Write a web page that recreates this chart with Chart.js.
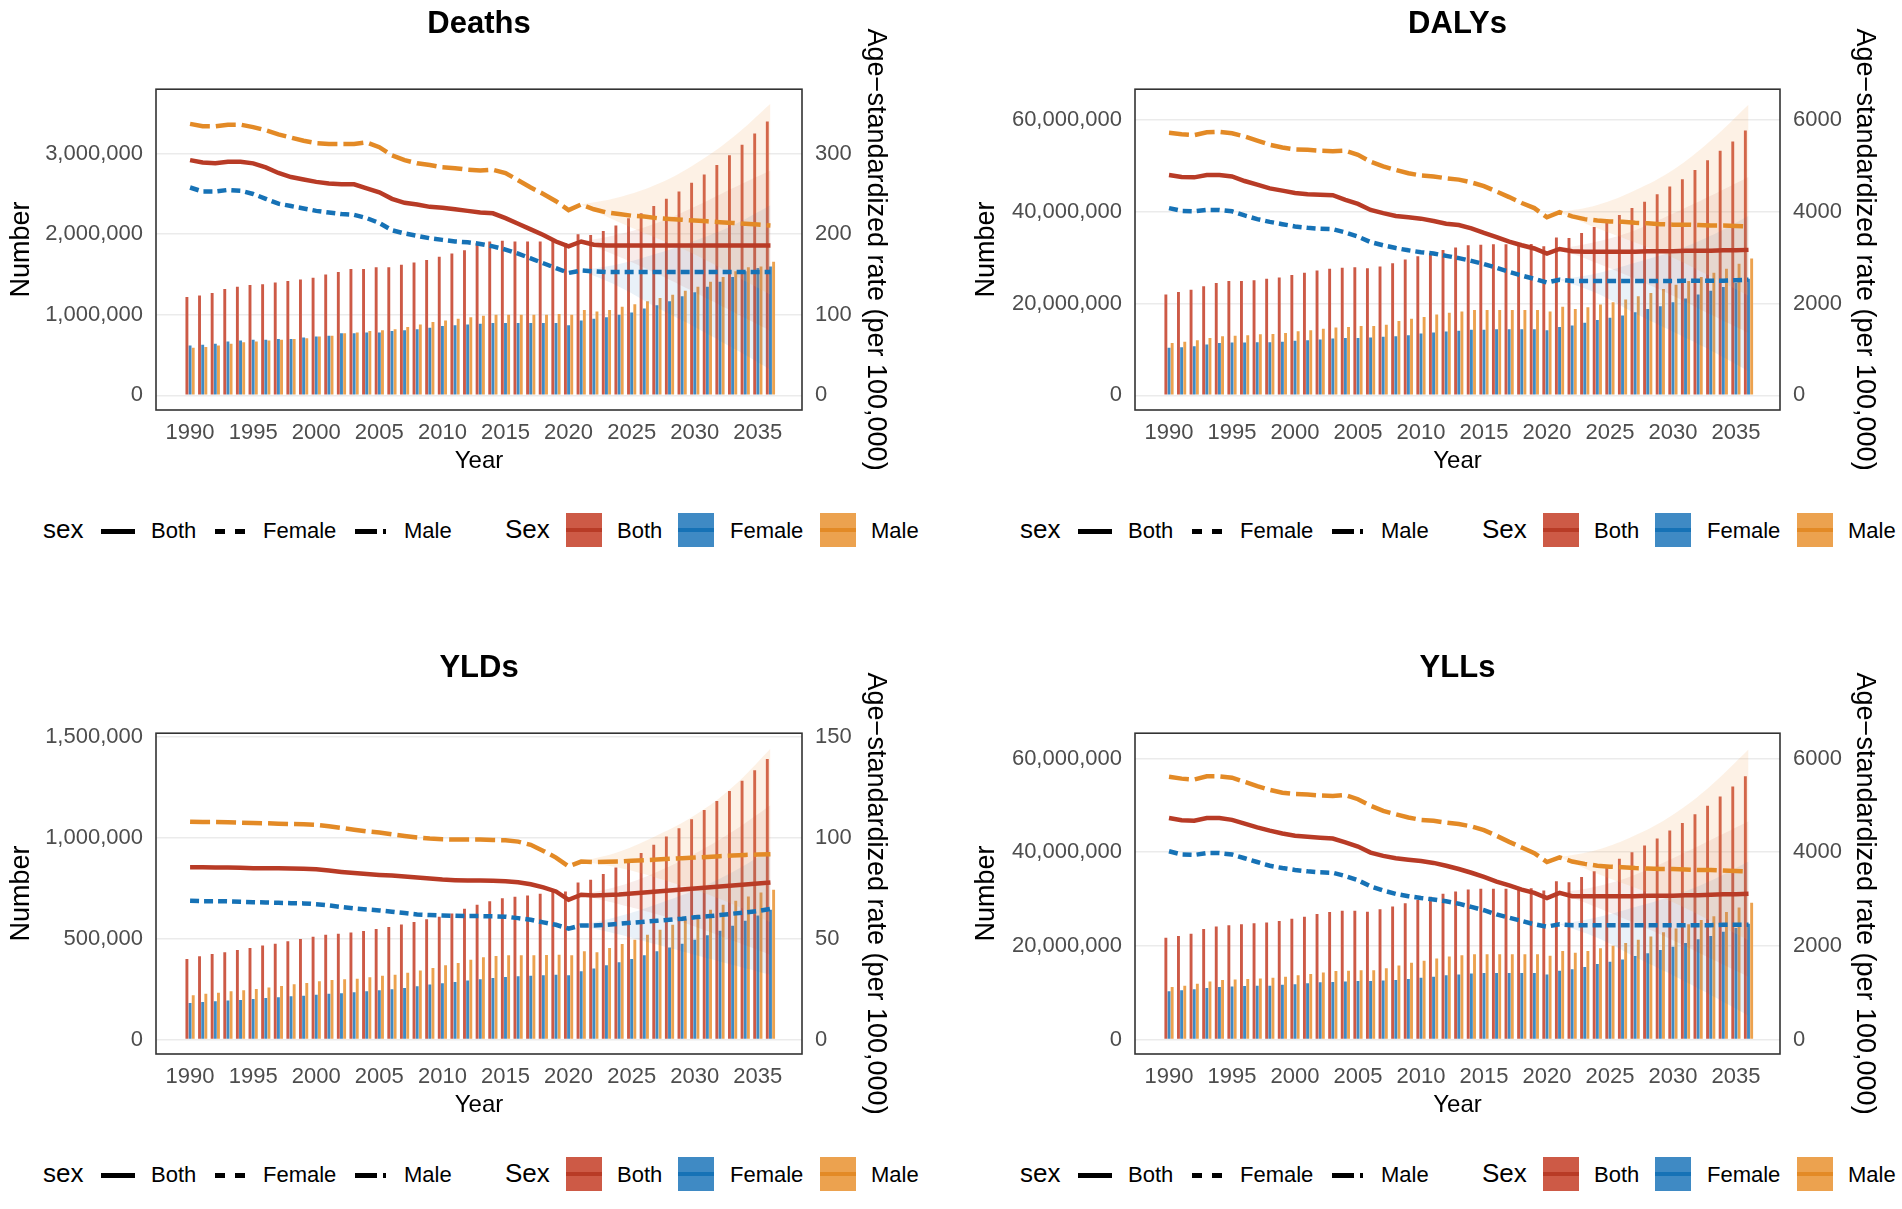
<!DOCTYPE html>
<html>
<head>
<meta charset="utf-8">
<script src="https://cdn.jsdelivr.net/npm/chart.js@4.4.1/dist/chart.umd.min.js"></script>
<style>
  body { margin: 0; background: #fff; }
  #wrap { position: relative; width: 1902px; height: 1209px; overflow: hidden; font-family: 'Liberation Sans', Arial, sans-serif; }
  canvas { position: absolute; }
</style>
</head>
<body>
<div id="wrap">
  <canvas id="deaths" width="892" height="480" style="left:0px;top:0px"></canvas>
  <canvas id="dalys" width="916" height="480" style="left:965px;top:0px"></canvas>
  <canvas id="ylds" width="892" height="480" style="left:0px;top:644px"></canvas>
  <canvas id="ylls" width="916" height="480" style="left:965px;top:644px"></canvas>
</div>
<script>
// Years shown in every panel
const years = [1990, 1991, 1992, 1993, 1994, 1995, 1996, 1997, 1998, 1999,
  2000, 2001, 2002, 2003, 2004, 2005, 2006, 2007, 2008, 2009,
  2010, 2011, 2012, 2013, 2014, 2015, 2016, 2017, 2018, 2019,
  2020, 2021, 2022, 2023, 2024, 2025, 2026, 2027, 2028, 2029,
  2030, 2031, 2032, 2033, 2034, 2035, 2036];
const xTicks = [1990, 1995, 2000, 2005, 2010, 2015, 2020, 2025, 2030, 2035];
const bandYears = [2021, 2024, 2027, 2030, 2033, 2036];

// Deaths: numbers in millions, rates per 100,000
const deathsNumBoth = [1.22, 1.24, 1.27, 1.32, 1.35, 1.37, 1.38, 1.40, 1.42, 1.44,
  1.46, 1.50, 1.53, 1.57, 1.57, 1.59, 1.59, 1.62, 1.65, 1.68,
  1.72, 1.76, 1.80, 1.89, 1.91, 1.92, 1.91, 1.91, 1.91, 1.94,
  1.89, 2.00, 1.99, 2.04, 2.11, 2.20, 2.26, 2.35, 2.44, 2.53,
  2.64, 2.74, 2.86, 2.98, 3.11, 3.25, 3.40];
const deathsNumFemale = [0.62, 0.63, 0.64, 0.67, 0.68, 0.69, 0.69, 0.70, 0.70, 0.72,
  0.73, 0.74, 0.77, 0.77, 0.78, 0.78, 0.80, 0.81, 0.82, 0.84,
  0.86, 0.87, 0.88, 0.89, 0.90, 0.90, 0.90, 0.90, 0.90, 0.90,
  0.87, 0.93, 0.95, 0.97, 1.00, 1.03, 1.08, 1.12, 1.17, 1.23,
  1.28, 1.35, 1.41, 1.47, 1.54, 1.58, 1.60];
const deathsNumMale = [0.59, 0.60, 0.62, 0.64, 0.66, 0.67, 0.68, 0.69, 0.70, 0.71,
  0.73, 0.74, 0.77, 0.78, 0.80, 0.81, 0.82, 0.85, 0.88, 0.91,
  0.93, 0.95, 0.97, 0.99, 1.00, 1.00, 1.00, 1.00, 1.00, 1.01,
  1.00, 1.06, 1.04, 1.06, 1.10, 1.13, 1.17, 1.21, 1.25, 1.30,
  1.35, 1.41, 1.47, 1.54, 1.59, 1.60, 1.66];
const deathsRateBoth = [292, 289, 288, 290, 290, 288, 283, 276, 271, 268,
  265, 263, 262, 262, 257, 252, 244, 239, 237, 234,
  233, 231, 229, 227, 226, 220, 213, 206, 199, 191,
  185, 191, 187, 186, 186, 186, 186, 186, 186, 186,
  186, 186, 186, 186, 186, 186, 186];
const deathsRateFemale = [258, 253, 253, 255, 254, 250, 244, 238, 235, 232,
  229, 227, 225, 224, 220, 214, 205, 201, 198, 195,
  193, 191, 190, 188, 185, 181, 176, 170, 164, 158,
  152, 155, 154, 153, 153, 153, 153, 153, 153, 153,
  153, 153, 153, 153, 153, 153, 153];
const deathsRateMale = [337, 334, 334, 336, 336, 333, 329, 324, 320, 316,
  313, 312, 312, 312, 314, 308, 298, 292, 288, 286,
  283, 282, 280, 279, 280, 276, 267, 258, 250, 241,
  230, 237, 231, 227, 225, 223, 222, 220, 219, 218,
  217, 216, 215, 214, 213, 212, 211];
const deathsBandMaleHi = [237, 246, 262, 287, 320, 362];
const deathsBandMaleLo = [237, 215, 195, 175, 150, 125];
const deathsBandBothHi = [191, 200, 214, 234, 257, 279];
const deathsBandBothLo = [191, 172, 151, 128, 104, 80];
const deathsBandFemaleHi = [155, 163, 176, 192, 211, 236];
const deathsBandFemaleLo = [155, 135, 109, 85, 59, 32];
const deathsTicksLeft = [0, 1, 2, 3];
const deathsTicksRight = [0, 100, 200, 300];

// DALYs
const dalysNumBoth = [22.0, 22.5, 23.0, 23.8, 24.5, 24.9, 24.9, 25.1, 25.4, 25.7,
  26.2, 26.7, 27.2, 27.6, 27.8, 27.9, 27.7, 28.1, 28.8, 29.6,
  30.3, 31.0, 31.7, 32.2, 32.7, 32.8, 32.9, 32.9, 33.0, 33.0,
  32.5, 34.4, 34.3, 35.4, 36.7, 37.9, 39.3, 40.8, 42.2, 43.8,
  45.5, 47.1, 49.1, 51.2, 53.3, 55.3, 57.7];
const dalysNumFemale = [10.4, 10.5, 10.7, 11.1, 11.4, 11.5, 11.5, 11.6, 11.6, 11.7,
  11.9, 12.0, 12.2, 12.4, 12.5, 12.5, 12.6, 12.8, 12.9, 13.1,
  13.5, 13.7, 13.9, 14.1, 14.3, 14.3, 14.4, 14.4, 14.4, 14.4,
  14.2, 14.9, 15.2, 15.8, 16.4, 16.9, 17.4, 18.1, 18.8, 19.4,
  20.3, 21.1, 22.0, 22.8, 23.6, 24.5, 25.4];
const dalysNumMale = [11.4, 11.7, 12.0, 12.5, 12.9, 13.0, 13.1, 13.3, 13.4, 13.6,
  14.0, 14.2, 14.5, 14.8, 14.9, 15.1, 15.1, 15.4, 16.2, 16.7,
  17.1, 17.6, 18.0, 18.3, 18.6, 18.6, 18.6, 18.6, 18.6, 18.6,
  18.3, 19.3, 18.8, 19.2, 19.8, 20.3, 20.9, 21.6, 22.3, 23.2,
  24.1, 24.9, 25.8, 26.7, 27.6, 28.7, 29.8];
const dalysRateBoth = [4800, 4760, 4750, 4800, 4800, 4770, 4670, 4590, 4510, 4460,
  4410, 4380, 4370, 4360, 4260, 4170, 4040, 3970, 3910, 3880,
  3850, 3800, 3740, 3710, 3640, 3540, 3450, 3350, 3270, 3200,
  3090, 3190, 3140, 3130, 3130, 3130, 3130, 3130, 3140, 3140,
  3140, 3150, 3150, 3150, 3160, 3160, 3170];
const dalysRateFemale = [4080, 4020, 4010, 4040, 4040, 4010, 3920, 3840, 3780, 3730,
  3680, 3650, 3630, 3620, 3550, 3460, 3340, 3270, 3210, 3160,
  3120, 3090, 3040, 2990, 2930, 2860, 2780, 2690, 2610, 2540,
  2460, 2520, 2490, 2490, 2490, 2490, 2490, 2490, 2490, 2490,
  2490, 2500, 2500, 2500, 2500, 2510, 2520];
const dalysRateMale = [5720, 5690, 5670, 5730, 5740, 5710, 5640, 5550, 5460, 5400,
  5360, 5350, 5330, 5320, 5330, 5240, 5090, 4990, 4910, 4840,
  4790, 4770, 4730, 4700, 4640, 4560, 4440, 4320, 4190, 4080,
  3880, 3990, 3900, 3840, 3810, 3790, 3780, 3760, 3750, 3730,
  3720, 3720, 3710, 3700, 3700, 3690, 3680];
const dalysBandMaleHi = [3990, 4150, 4470, 4910, 5550, 6330];
const dalysBandMaleLo = [3990, 3640, 3330, 3000, 2590, 2170];
const dalysBandBothHi = [3190, 3350, 3600, 3960, 4350, 4760];
const dalysBandBothLo = [3190, 2880, 2540, 2170, 1760, 1360];
const dalysBandFemaleHi = [2520, 2660, 2890, 3140, 3480, 3910];
const dalysBandFemaleLo = [2520, 2220, 1790, 1390, 980, 530];
const dalysTicksLeft = [0, 20, 40, 60];
const dalysTicksRight = [0, 2000, 4000, 6000];

// YLDs
const yldsNumBoth = [0.399, 0.412, 0.423, 0.432, 0.443, 0.453, 0.465, 0.474, 0.486, 0.498,
  0.509, 0.519, 0.524, 0.530, 0.537, 0.547, 0.557, 0.570, 0.582, 0.595,
  0.608, 0.624, 0.647, 0.667, 0.684, 0.700, 0.707, 0.713, 0.722, 0.733,
  0.733, 0.778, 0.791, 0.819, 0.852, 0.881, 0.923, 0.964, 1.005, 1.046,
  1.091, 1.137, 1.181, 1.231, 1.282, 1.334, 1.389];
const yldsNumFemale = [0.180, 0.185, 0.189, 0.193, 0.196, 0.201, 0.206, 0.209, 0.214, 0.217,
  0.222, 0.226, 0.229, 0.234, 0.239, 0.244, 0.249, 0.255, 0.264, 0.272,
  0.278, 0.285, 0.292, 0.298, 0.305, 0.310, 0.313, 0.316, 0.318, 0.320,
  0.318, 0.338, 0.351, 0.367, 0.382, 0.399, 0.417, 0.437, 0.456, 0.474,
  0.494, 0.516, 0.539, 0.563, 0.588, 0.614, 0.642];
const yldsNumMale = [0.219, 0.226, 0.232, 0.239, 0.244, 0.250, 0.257, 0.265, 0.273, 0.280,
  0.288, 0.295, 0.298, 0.301, 0.308, 0.315, 0.321, 0.331, 0.341, 0.354,
  0.367, 0.379, 0.395, 0.407, 0.413, 0.417, 0.417, 0.417, 0.418, 0.420,
  0.417, 0.437, 0.432, 0.453, 0.473, 0.494, 0.519, 0.544, 0.568, 0.593,
  0.618, 0.642, 0.667, 0.687, 0.708, 0.728, 0.741];
const yldsRateBoth = [85.3, 85.3, 85.2, 85.2, 85.0, 84.8, 84.8, 84.8, 84.7, 84.5,
  84.3, 83.7, 83.0, 82.4, 81.9, 81.5, 81.2, 80.7, 80.2, 79.7,
  79.2, 78.9, 78.7, 78.7, 78.6, 78.4, 77.9, 76.9, 75.3, 73.3,
  69.2, 71.7, 71.3, 71.5, 71.8, 72.3, 72.8, 73.3, 73.8, 74.3,
  74.8, 75.3, 75.8, 76.3, 76.8, 77.3, 77.8];
const yldsRateFemale = [68.7, 68.5, 68.5, 68.4, 68.2, 68.0, 67.9, 67.7, 67.5, 67.4,
  67.0, 66.4, 65.6, 64.9, 64.4, 63.9, 63.3, 62.6, 61.9, 61.6,
  61.4, 61.3, 61.1, 61.1, 61.0, 60.8, 60.1, 59.3, 58.0, 56.8,
  54.9, 56.5, 56.5, 56.8, 57.3, 57.8, 58.3, 58.8, 59.3, 59.8,
  60.5, 61.0, 61.6, 62.3, 62.9, 63.6, 64.7];
const yldsRateMale = [107.9, 107.7, 107.7, 107.6, 107.4, 107.2, 107.1, 106.9, 106.7, 106.6,
  106.3, 105.6, 104.8, 103.9, 103.1, 102.5, 101.6, 100.8, 100.0, 99.5,
  99.2, 99.0, 99.0, 99.0, 98.8, 98.7, 98.0, 96.4, 93.4, 90.1,
  85.7, 88.1, 87.8, 88.0, 88.1, 88.5, 88.8, 89.1, 89.5, 89.8,
  90.1, 90.4, 90.8, 91.1, 91.4, 91.6, 91.8];
const yldsBandMaleHi = [88.1, 93, 101, 111, 125, 144];
const yldsBandMaleLo = [88.1, 85, 80, 74, 67, 58];
const yldsBandBothHi = [71.7, 76, 83, 92, 103, 116];
const yldsBandBothLo = [71.7, 67, 62, 56, 49, 42];
const yldsBandFemaleHi = [56.5, 61, 67, 74, 83, 94];
const yldsBandFemaleLo = [56.5, 52, 47, 42, 37, 32];
const yldsTicksLeft = [0, 0.5, 1.0, 1.5];
const yldsTicksRight = [0, 50, 100, 150];

// YLLs
const yllsNumBoth = [21.7, 22.1, 22.6, 23.6, 24.1, 24.4, 24.6, 24.8, 25.0, 25.3,
  25.8, 26.2, 26.8, 27.2, 27.5, 27.5, 27.3, 27.8, 28.4, 29.1,
  29.8, 30.5, 31.1, 31.6, 32.0, 32.2, 32.2, 32.2, 32.3, 32.3,
  31.8, 33.8, 33.6, 34.7, 35.9, 37.1, 38.6, 40.0, 41.4, 42.9,
  44.6, 46.2, 48.1, 49.9, 51.9, 54.0, 56.2];
const yllsNumFemale = [10.3, 10.5, 10.7, 11.0, 11.2, 11.3, 11.4, 11.5, 11.5, 11.7,
  11.8, 12.0, 12.2, 12.3, 12.4, 12.5, 12.5, 12.6, 12.7, 12.9,
  13.2, 13.4, 13.7, 13.9, 14.1, 14.2, 14.2, 14.2, 14.2, 14.2,
  13.9, 14.7, 15.0, 15.5, 16.1, 16.6, 17.1, 17.8, 18.4, 19.1,
  19.8, 20.6, 21.4, 22.1, 23.0, 23.8, 24.7];
const yllsNumMale = [11.2, 11.5, 11.9, 12.4, 12.7, 12.8, 12.9, 13.0, 13.2, 13.4,
  13.7, 14.0, 14.3, 14.6, 14.7, 14.8, 14.8, 15.2, 15.8, 16.4,
  16.8, 17.3, 17.7, 18.0, 18.2, 18.2, 18.2, 18.2, 18.2, 18.2,
  17.9, 18.9, 18.5, 18.9, 19.5, 20.0, 20.6, 21.3, 22.0, 22.9,
  23.7, 24.6, 25.5, 26.3, 27.2, 28.2, 29.2];
const yllsRateBoth = [4730, 4680, 4670, 4730, 4730, 4690, 4610, 4530, 4460, 4400,
  4350, 4330, 4310, 4290, 4210, 4120, 3990, 3920, 3870, 3840,
  3810, 3770, 3710, 3640, 3560, 3470, 3370, 3290, 3200, 3130,
  3020, 3130, 3060, 3060, 3060, 3060, 3060, 3060, 3070, 3070,
  3070, 3080, 3080, 3090, 3100, 3100, 3110];
const yllsRateFemale = [4020, 3950, 3940, 3980, 3980, 3950, 3870, 3790, 3710, 3660,
  3620, 3590, 3570, 3560, 3490, 3400, 3270, 3180, 3110, 3060,
  3020, 2990, 2950, 2900, 2830, 2760, 2670, 2600, 2530, 2460,
  2410, 2460, 2440, 2440, 2440, 2440, 2440, 2440, 2440, 2440,
  2440, 2440, 2440, 2440, 2450, 2450, 2450];
const yllsRateMale = [5610, 5570, 5550, 5620, 5620, 5590, 5500, 5410, 5330, 5270,
  5240, 5230, 5210, 5200, 5220, 5130, 4990, 4880, 4810, 4740,
  4690, 4670, 4630, 4600, 4550, 4470, 4350, 4220, 4100, 3980,
  3790, 3890, 3800, 3750, 3710, 3690, 3680, 3660, 3650, 3640,
  3640, 3630, 3620, 3620, 3610, 3600, 3590];
const yllsBandMaleHi = [3890, 4050, 4360, 4800, 5420, 6190];
const yllsBandMaleLo = [3890, 3540, 3240, 2930, 2530, 2120];
const yllsBandBothHi = [3130, 3270, 3520, 3870, 4260, 4660];
const yllsBandBothLo = [3130, 2820, 2480, 2120, 1730, 1340];
const yllsBandFemaleHi = [2460, 2610, 2830, 3070, 3390, 3800];
const yllsBandFemaleLo = [2460, 2170, 1760, 1370, 950, 510];
const yllsTicksLeft = [0, 20, 40, 60];
const yllsTicksRight = [0, 2000, 4000, 6000];

// colours
const lineRed = '#B83B26', lineBlue = '#1672B6', lineOrange = '#E38A26';
const barRed = '#CD5A46', barBlue = '#3F8AC4', barOrange = '#ECA24F';
const bandRed = 'rgba(185, 70, 50, 0.10)', bandBlue = 'rgba(40, 120, 190, 0.10)', bandOrange = 'rgba(240, 165, 95, 0.16)';

Chart.defaults.font.family = "'Liberation Sans', Arial, sans-serif";
Chart.defaults.animation = false;

// full box around the plotting area
const panelBorder = {
    id: 'panelBorder',
    afterDraw(chart) {
        const a = chart.chartArea;
        const ctx = chart.ctx;
        ctx.save();
        ctx.strokeStyle = '#333333';
        ctx.lineWidth = 1.6;
        ctx.strokeRect(a.left, a.top, a.right - a.left, a.bottom - a.top);
        ctx.restore();
    }
};

function pts(xs, ys) {
    return xs.map((x, i) => ({ x: x, y: ys[i] }));
}

function barSet(values, color) {
    return {
        type: 'bar', data: pts(years, values), backgroundColor: color,
        borderWidth: 0, categoryPercentage: 0.75, barPercentage: 0.92,
        yAxisID: 'y', order: 2
    };
}

function lineSet(values, color, dash) {
    return {
        type: 'line', data: pts(years, values), borderColor: color, borderWidth: 4.5,
        borderDash: dash, borderCapStyle: 'butt', pointRadius: 0, fill: false,
        yAxisID: 'y1', order: 0
    };
}

function bandSet(values, color, upper) {
    return {
        type: 'line', data: pts(bandYears, values), borderWidth: 0, borderColor: 'transparent',
        backgroundColor: color, pointRadius: 0, tension: 0.4, fill: upper ? '+1' : false,
        yAxisID: 'y1', order: 1
    };
}

function createPanel(canvasId, p) {
    const tickColor = '#4D4D4D';
    new Chart(document.getElementById(canvasId), {
        type: 'bar',
        data: {
            datasets: [
                barSet(p.numBoth, barRed),
                barSet(p.numFemale, barBlue),
                barSet(p.numMale, barOrange),
                bandSet(p.bandMaleHi, bandOrange, true),
                bandSet(p.bandMaleLo, bandOrange, false),
                bandSet(p.bandBothHi, bandRed, true),
                bandSet(p.bandBothLo, bandRed, false),
                bandSet(p.bandFemaleHi, bandBlue, true),
                bandSet(p.bandFemaleLo, bandBlue, false),
                lineSet(p.rateBoth, lineRed, []),
                lineSet(p.rateFemale, lineBlue, [9, 5]),
                lineSet(p.rateMale, lineOrange, [20, 6])
            ]
        },
        options: {
            responsive: false,
            events: [],
            layout: { padding: 0 },
            plugins: {
                legend: { display: false },
                tooltip: { enabled: false },
                title: {
                    display: true, text: p.title, color: '#000', fullSize: false,
                    font: { size: 31, weight: 'bold' },
                    padding: { top: 5.5, bottom: 46.5 }
                }
            },
            scales: {
                x: {
                    type: 'linear', min: 1987.3, max: 2038.5, offset: false,
                    grid: { display: false, offset: false, drawTicks: false },
                    border: { display: false },
                    afterBuildTicks: s => { s.ticks = xTicks.map(v => ({ value: v })); },
                    afterFit: s => { s.height = 70; },
                    ticks: { color: tickColor, font: { size: 22 }, padding: 9.5, maxRotation: 0, autoSkip: false, callback: v => String(v) },
                    title: { display: true, text: 'Year', color: '#000', font: { size: 24 }, padding: { top: 0, bottom: 4.6 } }
                },
                y: {
                    position: 'left', min: p.yMin, max: p.yMax,
                    grid: { color: '#EBEBEB', lineWidth: 1.6, drawTicks: false },
                    border: { display: false },
                    afterBuildTicks: s => { s.ticks = p.ticksLeft.map(v => ({ value: v })); },
                    afterFit: s => { s.width = p.leftWidth; },
                    ticks: { color: tickColor, font: { size: 22 }, padding: 13, callback: v => Math.round(v * 1e6).toLocaleString('en-US') },
                    title: { display: true, text: 'Number', color: '#000', font: { size: 27 }, padding: { top: 5, bottom: 0 } }
                },
                y1: {
                    position: 'right', min: p.yMin * 100, max: p.yMax * 100,
                    grid: { display: false, drawTicks: false },
                    border: { display: false },
                    afterBuildTicks: s => { s.ticks = p.ticksRight.map(v => ({ value: v })); },
                    afterFit: s => { s.width = p.rightWidth; },
                    ticks: { color: tickColor, font: { size: 22 }, padding: 13, callback: v => String(v) },
                    title: { display: true, text: 'Age\u2212standardized rate (per 100,000)', color: '#000', font: { size: 27 }, padding: { top: 0, bottom: 0 } }
                }
            }
        },
        plugins: [panelBorder]
    });
}

// HTML legend row under each panel (two keys: line type and bar fill)
function addLegend(dx, dy) {
    const root = document.getElementById('wrap');
    const base = 538.5 + dy;
    function el(css, text) {
        const d = document.createElement('div');
        d.style.cssText = 'position:absolute;' + css;
        if (text) d.textContent = text;
        root.appendChild(d);
    }
    function txt(x, s, size) {
        el(`left:${x + dx}px;top:${base - 0.8465 * size}px;font-size:${size}px;line-height:${size}px;color:#000;white-space:nowrap;`, s);
    }
    function seg(x1, x2) {
        el(`left:${x1 + dx}px;top:${528.5 + dy}px;width:${x2 - x1}px;height:5px;background:#000;`);
    }
    function box(x, fill, line) {
        el(`left:${x + dx}px;top:${512.5 + dy}px;width:36px;height:34px;background:${fill};`);
        el(`left:${x + dx}px;top:${527.5 + dy}px;width:36px;height:4px;background:${line};`);
    }
    txt(43, 'sex', 26);
    seg(101, 135); txt(151, 'Both', 22);
    seg(215, 225); seg(235, 245); txt(263, 'Female', 22);
    seg(355, 377); seg(383, 386); txt(404, 'Male', 22);
    txt(505, 'Sex', 26);
    box(566, barRed, lineRed); txt(617, 'Both', 22);
    box(678, barBlue, lineBlue); txt(730, 'Female', 22);
    box(820, barOrange, lineOrange); txt(871, 'Male', 22);
}

createPanel('deaths', {
    title: 'Deaths', yMin: -0.181, yMax: 3.80, leftWidth: 156, rightWidth: 90,
    ticksLeft: deathsTicksLeft, ticksRight: deathsTicksRight,
    numBoth: deathsNumBoth, numFemale: deathsNumFemale, numMale: deathsNumMale,
    rateBoth: deathsRateBoth, rateFemale: deathsRateFemale, rateMale: deathsRateMale,
    bandMaleHi: deathsBandMaleHi, bandMaleLo: deathsBandMaleLo,
    bandBothHi: deathsBandBothHi, bandBothLo: deathsBandBothLo,
    bandFemaleHi: deathsBandFemaleHi, bandFemaleLo: deathsBandFemaleLo
});
createPanel('dalys', {
    title: 'DALYs', yMin: -3.18, yMax: 66.7, leftWidth: 170, rightWidth: 101,
    ticksLeft: dalysTicksLeft, ticksRight: dalysTicksRight,
    numBoth: dalysNumBoth, numFemale: dalysNumFemale, numMale: dalysNumMale,
    rateBoth: dalysRateBoth, rateFemale: dalysRateFemale, rateMale: dalysRateMale,
    bandMaleHi: dalysBandMaleHi, bandMaleLo: dalysBandMaleLo,
    bandBothHi: dalysBandBothHi, bandBothLo: dalysBandBothLo,
    bandFemaleHi: dalysBandFemaleHi, bandFemaleLo: dalysBandFemaleLo
});
createPanel('ylds', {
    title: 'YLDs', yMin: -0.072, yMax: 1.517, leftWidth: 156, rightWidth: 90,
    ticksLeft: yldsTicksLeft, ticksRight: yldsTicksRight,
    numBoth: yldsNumBoth, numFemale: yldsNumFemale, numMale: yldsNumMale,
    rateBoth: yldsRateBoth, rateFemale: yldsRateFemale, rateMale: yldsRateMale,
    bandMaleHi: yldsBandMaleHi, bandMaleLo: yldsBandMaleLo,
    bandBothHi: yldsBandBothHi, bandBothLo: yldsBandBothLo,
    bandFemaleHi: yldsBandFemaleHi, bandFemaleLo: yldsBandFemaleLo
});
createPanel('ylls', {
    title: 'YLLs', yMin: -3.1, yMax: 65.4, leftWidth: 170, rightWidth: 101,
    ticksLeft: yllsTicksLeft, ticksRight: yllsTicksRight,
    numBoth: yllsNumBoth, numFemale: yllsNumFemale, numMale: yllsNumMale,
    rateBoth: yllsRateBoth, rateFemale: yllsRateFemale, rateMale: yllsRateMale,
    bandMaleHi: yllsBandMaleHi, bandMaleLo: yllsBandMaleLo,
    bandBothHi: yllsBandBothHi, bandBothLo: yllsBandBothLo,
    bandFemaleHi: yllsBandFemaleHi, bandFemaleLo: yllsBandFemaleLo
});

addLegend(0, 0);
addLegend(977, 0);
addLegend(0, 644);
addLegend(977, 644);
</script>
</body>
</html>
